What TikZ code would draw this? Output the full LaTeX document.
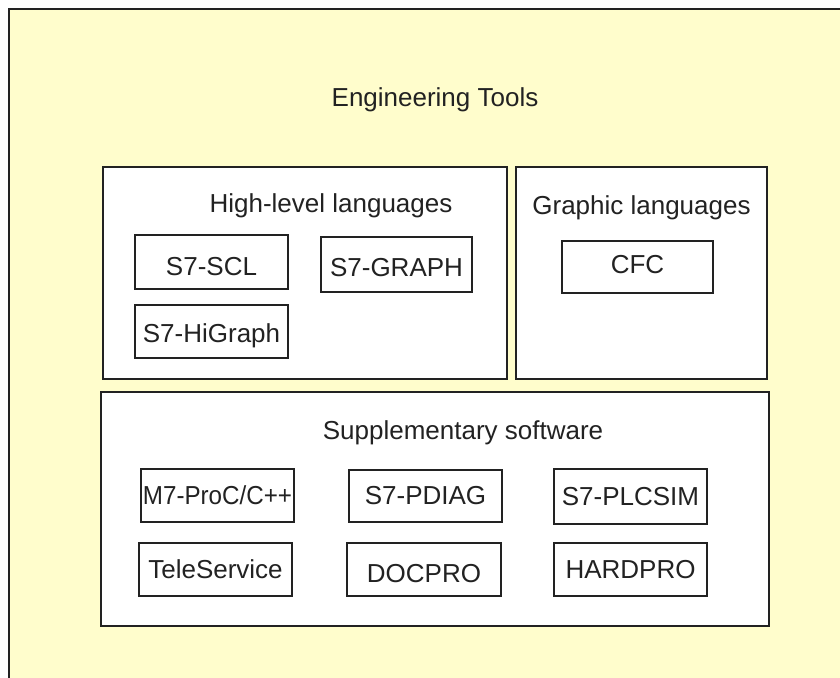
\documentclass[tikz,border=0pt]{standalone}
\usepackage{fontspec}
\setmainfont{Liberation Sans}
\definecolor{bgyellow}{HTML}{FFFDCC}
\definecolor{ink}{HTML}{222222}
\newcommand{\lowertxt}[2]{\raisebox{#1}[\height][\depth]{#2}}
\tikzset{
  frame/.style={draw=ink, line width=1.6pt},
  group/.style={draw=ink, fill=white, line width=1.6pt, inner sep=0pt, outer sep=0pt},
  tool/.style={draw=ink, fill=white, line width=1.5pt, inner sep=0pt, outer sep=0pt,
    text=ink, font=\fontsize{26}{30}\selectfont},
  title/.style={text=ink, inner sep=0pt, anchor=base, font=\fontsize{26}{30}\selectfont}
}
\begin{document}
\begin{tikzpicture}[x=1pt,y=-1pt]
\useasboundingbox (0,0) rectangle (840,677);
\fill[white] (0,0) rectangle (840,677);
\fill[bgyellow] (9,9) rectangle (845,682);
\draw[frame] (9,682) -- (9,9) -- (845,9);
\node[title] (eng) at (435,106) {Engineering Tools};
% groups
\node[group, minimum width=404pt, minimum height=212pt] (hl) at (305,273) {};
\node[group, minimum width=251pt, minimum height=212pt] (gl) at (641.5,273) {};
\node[group, minimum width=668pt, minimum height=234pt] (sup) at (435,509) {};
\node[title] (hlt) at (331,212) {High-level languages};
\node[title] (glt) at (641.5,214) {Graphic languages};
\node[title] (supt) at (463,439) {Supplementary software};
% high-level
\node[tool, minimum width=153pt, minimum height=54pt] (scl) at (211.5,262) {\lowertxt{-5pt}{S7-SCL}};
\node[tool, minimum width=151pt, minimum height=55pt] (graph) at (396.5,264.5) {\lowertxt{-3pt}{S7-GRAPH}};
\node[tool, minimum width=153pt, minimum height=53pt] (higraph) at (211.5,331.5) {\lowertxt{-4pt}{S7-HiGraph}};
% graphic
\node[tool, minimum width=151pt, minimum height=52pt] (cfc) at (637.5,267) {\lowertxt{2pt}{CFC}};
% supplementary
\node[tool, minimum width=153pt, minimum height=53pt] (m7) at (217.5,495.5) {\scalebox{0.93}[1]{M7-ProC/C++}};
\node[tool, minimum width=153pt, minimum height=52pt] (pdiag) at (425.5,496) {S7-PDIAG};
\node[tool, minimum width=153pt, minimum height=55pt] (plcsim) at (630.5,496.5) {S7-PLCSIM};
\node[tool, minimum width=153pt, minimum height=53pt] (tele) at (215.5,569.5) {TeleService};
\node[tool, minimum width=154pt, minimum height=53pt] (docpro) at (424,569.5) {\lowertxt{-4pt}{DOCPRO}};
\node[tool, minimum width=153pt, minimum height=53pt] (hardpro) at (630.5,569.5) {HARDPRO};
\end{tikzpicture}
\end{document}
